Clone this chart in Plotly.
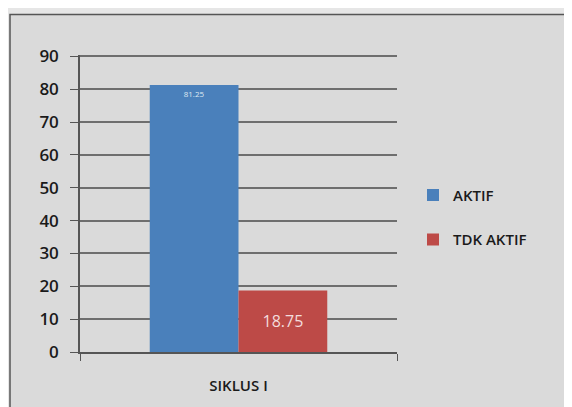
import plotly.graph_objects as go

categories = ["SIKLUS I"]
aktif = [81.25]
tdk_aktif = [18.75]
series_names = ["AKTIF", "TDK AKTIF"]
y_ticks = [0, 10, 20, 30, 40, 50, 60, 70, 80, 90]

OFF = 8  # page body margin
W, H = 572 - OFF, 407 - OFF
L, R, T, B = 80 - OFF, 397 - OFF, 55 - OFF, 355 - OFF

bg = "#dadada"
fig = go.Figure()
fig.add_trace(go.Bar(
    x=categories, y=aktif, name=series_names[0],
    marker=dict(color="#4a80bb", line=dict(width=0)),
    text=[f"{v:g}" for v in aktif], textposition="inside",
    insidetextanchor="end", textangle=0,
    textfont=dict(size=8, color="#dfe8f2", family="Open Sans"),
    legendgroup="a",
))
fig.add_trace(go.Bar(
    x=categories, y=tdk_aktif, name=series_names[1],
    marker=dict(color="#bd4a47", line=dict(width=0)),
    text=[f"{v:g}" for v in tdk_aktif], textposition="inside",
    insidetextanchor="middle", textangle=0,
    textfont=dict(size=16, color="#f3dcdc", family="Open Sans"),
    legendgroup="b",
))

pw, ph = R - L, B - T
def px(x):
    return (x - OFF - L) / pw
def py(y):
    return (B - (y - OFF)) / ph

fig.add_shape(type="rect", xref="paper", yref="paper",
              x0=px(10), x1=px(590), y0=py(420), y1=py(14),
              line=dict(color="#555555", width=1.5), fillcolor=bg, layer="below")

fig.update_layout(
    width=W, height=H,
    margin=dict(l=L, r=W - R, t=T, b=H - B),
    paper_bgcolor="#e6e6e6", plot_bgcolor=bg,
    barmode="group", bargap=0.44, bargroupgap=0,
    showlegend=True,
    legend=dict(x=px(413), y=py(219), xanchor="left", yanchor="middle",
                traceorder="grouped", tracegroupgap=22, itemwidth=30,
                bgcolor="rgba(0,0,0,0)",
                font=dict(size=15, color="#1a1a1a", family="Open Sans", weight=600)),
    font=dict(family="Open Sans", color="#222222"),
)
fig.update_xaxes(
    type="category", tickson="boundaries", ticks="outside", ticklen=7,
    tickcolor="#555555", showline=True, linecolor="#555555", linewidth=1.5,
    showgrid=False, ticklabelstandoff=19,
    tickfont=dict(size=15, color="#1a1a1a", family="Open Sans", weight=600),
    fixedrange=True,
)
fig.update_yaxes(
    range=[0, 90.4], tickvals=y_ticks, ticks="outside", ticklen=8,
    tickcolor="#555555", showline=True, linecolor="#555555", linewidth=1.5,
    showgrid=True, gridcolor="#6e6e6e", gridwidth=1.5, zeroline=False,
    ticklabelstandoff=8,
    tickfont=dict(size=17, color="#1a1a1a", family="Open Sans", weight=600),
)

fig.write_html("out.html")
